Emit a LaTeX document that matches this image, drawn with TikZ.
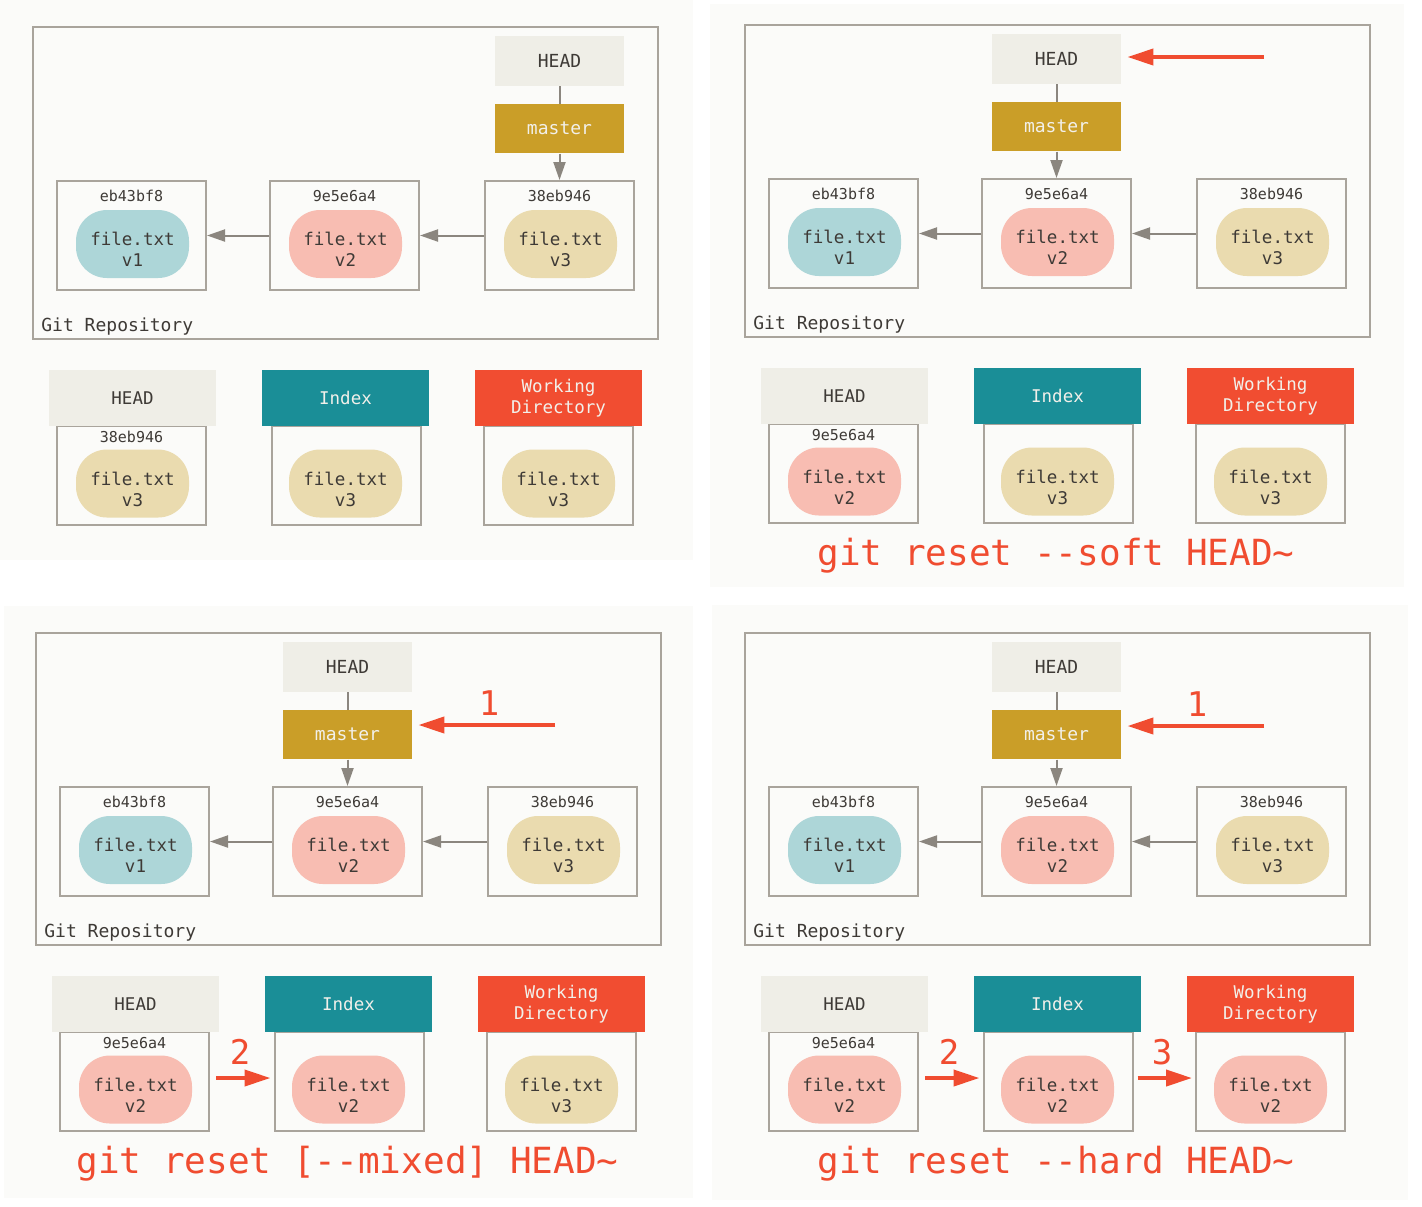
\documentclass[tikz,border=0pt]{standalone}
\usepackage{fontspec}
\setmonofont{DejaVu Sans Mono}
\usetikzlibrary{arrows.meta}
\definecolor{panelbg}{HTML}{FBFBF9}
\definecolor{boxline}{HTML}{A9A49C}
\definecolor{headfill}{HTML}{EFEEE7}
\definecolor{masterfill}{HTML}{CA9E28}
\definecolor{indexfill}{HTML}{1A8E97}
\definecolor{wdfill}{HTML}{F14D31}
\definecolor{blobv1}{HTML}{ADD6D8}
\definecolor{blobv2}{HTML}{F8BDB2}
\definecolor{blobv3}{HTML}{EADBAF}
\definecolor{txtdark}{HTML}{3E3A36}
\definecolor{txtlight}{HTML}{F2F0EA}
\definecolor{arrowgray}{HTML}{8B867F}
\definecolor{redc}{HTML}{F04C30}
\tikzset{
 panel/.style={fill=panelbg, draw=none},
 repo/.style={draw=boxline, line width=1pt, minimum width=312.5pt, minimum height=156pt, inner sep=0pt},
 lbl/.style={font=\ttfamily\fontsize{9}{10.5}\selectfont, text=txtdark, inner sep=0pt},
 box/.style={draw=boxline, line width=1pt, fill=panelbg, minimum width=74.5pt, minimum height=54.5pt, inner sep=0pt},
 areabox/.style={box, minimum height=49.5pt},
 blob/.style={rounded corners=15.5pt, minimum width=56.5pt, minimum height=34pt, inner sep=0pt},
 blobtext/.style={font=\ttfamily\fontsize{8.75}{10.5}\selectfont, text=txtdark, align=center, inner sep=0pt},
 hash/.style={font=\ttfamily\fontsize{7.5}{9}\selectfont, text=txtdark, inner sep=0pt},
 refbox/.style={minimum width=64.5pt, minimum height=25pt, inner sep=0pt, font=\ttfamily\fontsize{9}{10.5}\selectfont},
 areahdr/.style={minimum width=83.5pt, minimum height=28pt, inner sep=0pt, align=center, font=\ttfamily\fontsize{8.75}{10.5}\selectfont},
 garrow/.style={draw=arrowgray, line width=1pt, -{Triangle[length=9pt,width=6pt]}},
 gline/.style={draw=arrowgray, line width=1pt},
 rarrow/.style={draw=redc, line width=2pt, -{Triangle[length=13pt,width=8pt]}},
 rnum/.style={text=redc, font=\ttfamily\fontsize{17}{20}\selectfont, inner sep=0pt},
 cmd/.style={text=redc, font=\ttfamily\fontsize{18}{20}\selectfont, inner sep=0pt, anchor=base},
}
% name, x, hash, version
\newcommand\commitnode[4]{%
 \node[box] (#1) at (#2,235.5) {};
 \node[hash] (#1-h) at (#2,196) {#3};
 \node[blob, fill=blob#4] (#1-b) at (#2+1,244) {};
 \node[blobtext] (#1-t) at (#2+1,249.5) {file.txt\\#4};
}
% name, x, version
\newcommand\areablob[3]{%
 \node[blob, fill=blob#3] (#1-b) at (#2,483.5) {};
 \node[blobtext] (#1-t) at (#2,489) {file.txt\\#3};
}
% prefix, xshift, yshift, head x, head hash, head ver, index ver, wd ver
\newcommand\gitpanel[8]{%
\begin{scope}[shift={(#2,#3)}]
 \node[repo] (#1-repo) at (345.5,183) {};
 \node[lbl, anchor=west] (#1-repolbl) at (41,327) {Git Repository};
 \node[refbox, fill=headfill, text=txtdark] (#1-head) at (#4,61) {HEAD};
 \node[refbox, fill=masterfill, text=txtlight, minimum height=24.5pt] (#1-master) at (#4,128.75) {master};
 \commitnode{#1-c1}{131.5}{eb43bf8}{v1}
 \commitnode{#1-c2}{344.5}{9e5e6a4}{v2}
 \commitnode{#1-c3}{559.5}{38eb946}{v3}
 \draw[gline] (#1-head) -- (#1-master);
 \draw[garrow] (#1-master.south) -- (#1-master.south |- #1-c3.north);
 \draw[garrow] (#1-c2) -- (#1-c1);
 \draw[garrow] (#1-c3) -- (#1-c2);
 % bottom row
 \node[areabox] (#1-hb) at (131.5,475.5) {};
 \node[areabox] (#1-ib) at (346,475.5) {};
 \node[areabox] (#1-wb) at (558.5,475.5) {};
 \node[areahdr, fill=headfill, text=txtdark] (#1-hh) at (132.5,398) {HEAD};
 \node[areahdr, fill=indexfill, text=txtlight] (#1-ih) at (345.5,398) {Index};
 \node[areahdr, fill=wdfill, text=txtlight] (#1-wh) at (558.5,398) {Working\\Directory};
 \node[hash] (#1-hbh) at (131.5,437) {#5};
 \areablob{#1-hb}{132.5}{#6}
 \areablob{#1-ib}{345.5}{#7}
 \areablob{#1-wb}{558.5}{#8}
\end{scope}}
\begin{document}
\begin{tikzpicture}[x=0.5pt,y=-0.5pt]
\fill[white] (0,0) rectangle (1422,1206);
\useasboundingbox (0,0) rectangle (1422,1206);
\fill[panel] (0,0) rectangle (693,560);
\fill[panel] (710,4) rectangle (1404,587);
\fill[panel] (4,606) rectangle (693,1198);
\fill[panel] (712,605) rectangle (1408,1200);

\gitpanel{a}{0}{0}{559.5}{38eb946}{v3}{v3}{v3}
\gitpanel{b}{712}{-2}{344.5}{9e5e6a4}{v2}{v3}{v3}
\gitpanel{c}{3}{606}{344.5}{9e5e6a4}{v2}{v2}{v3}
\gitpanel{d}{712}{606}{344.5}{9e5e6a4}{v2}{v2}{v2}

% panel b annotations
\coordinate (b-r1s) at (1264,57);
\draw[rarrow, shorten >=3pt] (b-r1s) -- (b-head.east |- b-r1s);
\node[cmd] (b-cmd) at (1056,565) {git reset --soft HEAD\textasciitilde};

% panel c annotations
\coordinate (c-r1s) at (555,725);
\draw[rarrow, shorten >=3pt] (c-r1s) -- (c-master.east |- c-r1s);
\node[rnum] (c-n1) at (489,703) {1};
\draw[rarrow, shorten <=3pt, shorten >=1.5pt] ([yshift=1.75pt]c-hb.east) -- ([yshift=1.75pt]c-ib.west);
\node[rnum] (c-n2) at (240,1052) {2};
\node[cmd] (c-cmd) at (347.5,1173) {git reset [--mixed] HEAD\textasciitilde};

% panel d annotations
\coordinate (d-r1s) at (1264,726);
\draw[rarrow, shorten >=3pt] (d-r1s) -- (d-master.east |- d-r1s);
\node[rnum] (d-n1) at (1197,704) {1};
\draw[rarrow, shorten <=3pt, shorten >=1.5pt] ([yshift=1.75pt]d-hb.east) -- ([yshift=1.75pt]d-ib.west);
\node[rnum] (d-n2) at (949,1052) {2};
\draw[rarrow, shorten <=2pt, shorten >=1.5pt] ([yshift=1.75pt]d-ib.east) -- ([yshift=1.75pt]d-wb.west);
\node[rnum] (d-n3) at (1162,1052) {3};
\node[cmd] (d-cmd) at (1056,1173) {git reset --hard HEAD\textasciitilde};
\end{tikzpicture}
\end{document}
